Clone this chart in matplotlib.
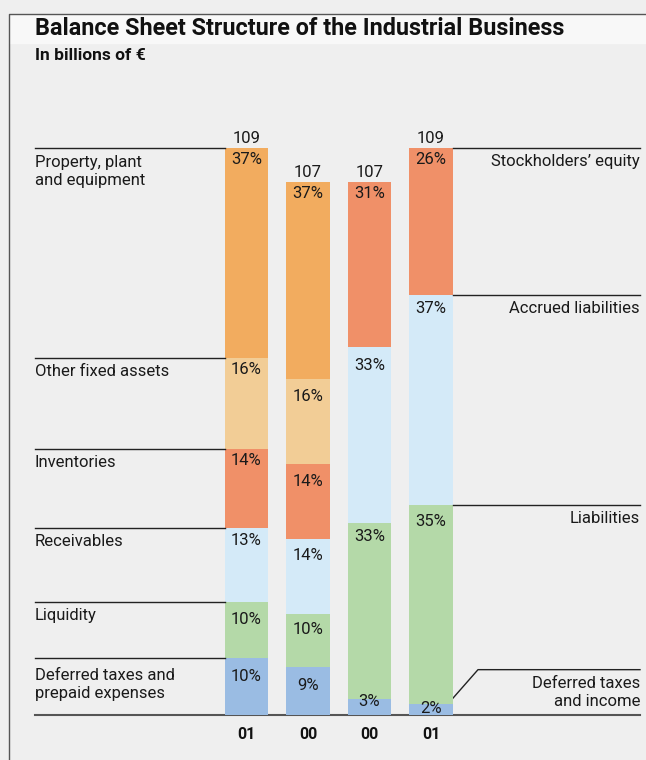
import matplotlib
matplotlib.use("Agg")
import matplotlib.pyplot as plt
from matplotlib import font_manager
from matplotlib.transforms import blended_transform_factory, offset_copy

# ---------------- data ----------------
years = ["01", "00", "00", "01"]
totals = [109, 107, 107, 109]

asset_labels = ["Deferred taxes and\nprepaid expenses", "Liquidity", "Receivables",
                "Inventories", "Other fixed assets", "Property, plant\nand equipment"]
assets_01 = [10, 10, 13, 14, 16, 37]
assets_00 = [9, 10, 14, 14, 16, 37]

liab_labels = ["Deferred taxes\nand income", "Liabilities", "Accrued liabilities",
               "Stockholders\u2019 equity"]
liab_00 = [3, 33, 33, 31]
liab_01 = [2, 35, 37, 26]

title = "Balance Sheet Structure of the Industrial Business"
subtitle = "In billions of \u20ac"

# ---------------- style ----------------
names = {f.name for f in font_manager.fontManager.ttflist}
FONT = "DejaVu Sans"
for cand in ["Roboto", "Liberation Sans"]:
    if cand in names:
        FONT = cand
        break
plt.rcParams["font.family"] = [FONT, "DejaVu Sans"]

BG = "#efefef"
TXT = "#1a1a1a"
asset_colors = ["#9abce3", "#b4d9a8", "#d4eaf8", "#f09068", "#f2cd96", "#f2ac5f"]
liab_colors = ["#9abce3", "#b4d9a8", "#d4eaf8", "#f09068"]
AXIS_FLOOR = 75.6   # value axis of the original is truncated
FS = 12

W, H = 646, 760
PX = 0.72  # points per pixel at 100 dpi
fig = plt.figure(figsize=(W / 100, H / 100), dpi=100, facecolor=BG)

# background / layout axes in pixel units
bg = fig.add_axes([0, 0, 1, 1])
bg.set_xlim(0, W)
bg.set_ylim(H, 0)
bg.axis("off")
bg.fill_between([8.5, W], 14, 43, color="#f8f8f8", zorder=0)
bg.plot([8.5, 8.5, W], [H, 14, 14], color="#555555", lw=1.0, zorder=1)
bg.text(35, 35, title, fontsize=16.8, fontweight="bold", va="baseline", ha="left", color="#111111")
bg.text(35, 60, subtitle, fontsize=12.5, fontweight="bold", va="baseline", ha="left", color="#111111")

# bar axes: baseline at pixel 715, value 109 at pixel 148
y0 = (H - 715) / H
y1 = (H - 148) / H
ax = fig.add_axes([0, y0, 1, y1 - y0])
ax.set_facecolor("none")
ax.axis("off")
spacing = 61.5
c0 = 246.5
ax.set_xlim(-c0 / spacing, (W - c0) / spacing)
ax.set_ylim(AXIS_FLOOR, 109)

xs = list(range(len(years)))
series = [assets_01, assets_00, liab_00, liab_01]
colors = [asset_colors, asset_colors, liab_colors, liab_colors]
width = 0.70
# label centre offsets below each segment top (pixels)
pct_off = [[18, 18, 13, 12, 12, 12],
           [18, 16, 16, 17, 17, 12],
           [2, 13, 18, 12],
           [5, 16, 13, 12]]

tops = []
for i, (pcts, cols, tot) in enumerate(zip(series, colors, totals)):
    span = tot - AXIS_FLOOR
    bottom = AXIS_FLOOR
    segtops = []
    for j, (p, c) in enumerate(zip(pcts, cols)):
        h = p / 100 * span
        ax.bar(xs[i], h, bottom=bottom, width=width, color=c, linewidth=0, zorder=2)
        top = bottom + h
        segtops.append(top)
        ax.annotate(f"{p}%", (xs[i], top), xytext=(0, -pct_off[i][j] * PX), textcoords="offset points",
                    ha="center", va="center", fontsize=FS, color=TXT, zorder=4)
        bottom = top
    tops.append(segtops)
    ax.annotate(f"{tot}", (xs[i], tot), xytext=(0, 5 * PX), textcoords="offset points",
                ha="center", va="baseline", fontsize=FS, color=TXT, clip_on=False)

# year labels
for i, yr in enumerate(years):
    bg.text(c0 + spacing * i, 739, yr, ha="center", va="baseline", fontsize=11.5,
            fontweight="bold", color="#111111")

# baseline
bg.plot([35, 640], [715, 715], color="#555555", lw=1.5, zorder=3)

# left annotations (segment tops of first bar)
blend = blended_transform_factory(bg.transData, ax.transData)
left_edge = c0 - spacing * width / 2
right_edge = c0 + spacing * 3 + spacing * width / 2
lab_base_off = [22, 18, 18, 18, 18, 19]
for j, lab in enumerate(asset_labels):
    yv = tops[0][j]
    ax.plot([35, left_edge], [yv, yv], color="#222222", lw=1.0, transform=blend, clip_on=False)
    for k, line in enumerate(lab.split("\n")):
        tr = offset_copy(blend, fig=fig, x=0, y=-(lab_base_off[j] + 18 * k) * PX, units="points")
        ax.text(35, yv, line, transform=tr, ha="left", va="baseline", fontsize=FS, color=TXT)

# right annotations (segment tops of last bar)
for j, lab in enumerate(liab_labels):
    yv = tops[3][j]
    if j == 0:
        py_top = 715 - (yv - AXIS_FLOOR) / (109 - AXIS_FLOOR) * (715 - 148)
        y_line = py_top - 34
        bg.plot([right_edge, 478, 640], [py_top - 5, y_line, y_line],
                color="#222222", lw=1.0)
        for k, line in enumerate(lab.split("\n")):
            bg.text(640, y_line + 18.5 + 18 * k, line, ha="right", va="baseline",
                    fontsize=FS, color=TXT)
    else:
        ax.plot([right_edge, 640], [yv, yv], color="#222222", lw=1.0, transform=blend, clip_on=False)
        tr = offset_copy(blend, fig=fig, x=0, y=-18 * PX, units="points")
        ax.text(640, yv, lab, transform=tr, ha="right", va="baseline", fontsize=FS, color=TXT)

fig.savefig("out.png", dpi=100, facecolor=BG)
